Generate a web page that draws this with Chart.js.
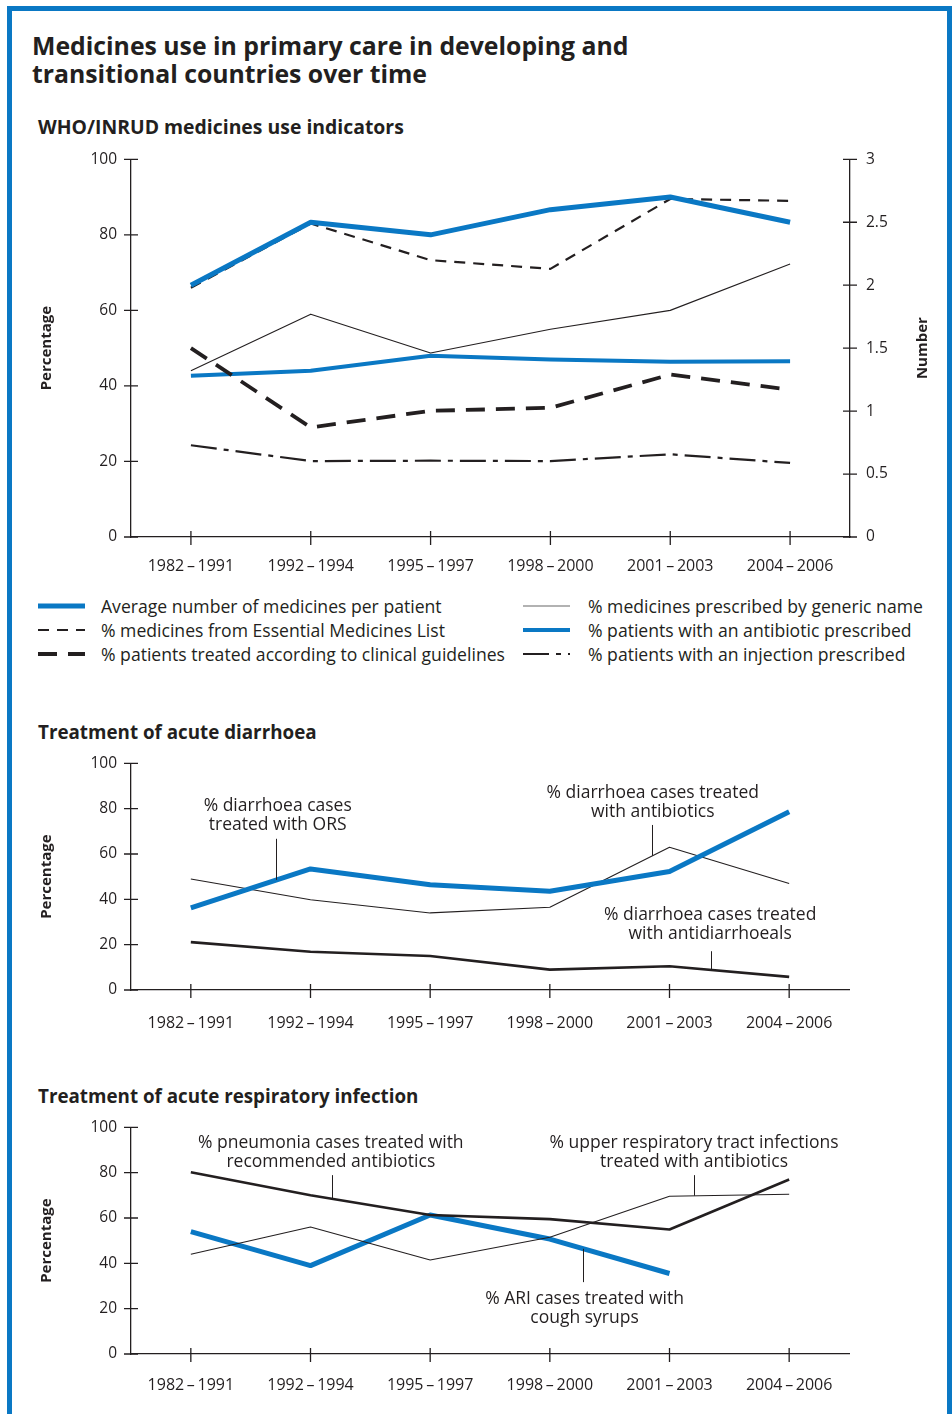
<!DOCTYPE html>
<html>
<head>
<meta charset="utf-8">
<script src="https://cdn.jsdelivr.net/npm/chart.js@4.4.1/dist/chart.umd.min.js"></script>
<style>
  html, body { margin: 0; padding: 0; background: #fff; }
  body { width: 952px; height: 1414px; position: relative; overflow: hidden; font-family: 'Open Sans', sans-serif; color: #231f20; }
  #frame { position: absolute; left: 7px; top: 6px; width: 935px; height: 1500px; border: 5px solid #0a78c4; border-bottom: none; }
  h1 { position: absolute; left: 32px; top: 31px; margin: 0; font-size: 24.8px; line-height: 28px; font-weight: 700; }
  h2 { position: absolute; left: 38px; margin: 0; font-size: 18.8px; line-height: 18px; font-weight: 700; }
  canvas { position: absolute; left: 0; }
  .legend { position: absolute; top: 594px; font-size: 17.6px; line-height: 24px; }
  .legend div { display: flex; align-items: center; height: 24px; white-space: nowrap; }
  .legend svg { flex: none; }
</style>
</head>
<body>
<div id="frame"></div>
<h1>Medicines use in primary care in developing and<br>transitional countries over time</h1>
<h2 style="top:118px; font-size:19.4px">WHO/INRUD medicines use indicators</h2>
<canvas id="c1" width="952" height="446" style="top:134px"></canvas>
<div class="legend" id="leg1" style="left:38px"></div>
<div class="legend" id="leg2" style="left:523px"></div>
<h2 style="top:723px">Treatment of acute diarrhoea</h2>
<canvas id="c2" width="952" height="300" style="top:740px"></canvas>
<h2 style="top:1087px">Treatment of acute respiratory infection</h2>
<canvas id="c3" width="952" height="310" style="top:1104px"></canvas>
<script>
const categories = ['1982\u2009–\u20091991', '1992\u2009–\u20091994', '1995\u2009–\u20091997',
  '1998\u2009–\u20092000', '2001\u2009–\u20092003', '2004\u2009–\u20092006'];

// WHO/INRUD medicines use indicators
const avgMedicines = [2.0, 2.5, 2.4, 2.6, 2.7, 2.5];      // right axis (number)
const emlPct = [66, 83, 73.3, 71, 89.5, 89];
const guidelinesPct = [50, 29, 33.4, 34.2, 43, 39];
const genericPct = [44, 59, 48.7, 55, 60, 72.3];
const antibioticPct = [42.7, 44, 48, 47, 46.4, 46.5];
const injectionPct = [24.3, 20.1, 20.2, 20.1, 21.9, 19.6];

// Treatment of acute diarrhoea
const orsPct = [36.2, 53.4, 46.4, 43.6, 52.3, 78.6];
const diarrAntibioticPct = [49, 39.8, 34, 36.5, 63, 47];
const antidiarrPct = [21.1, 16.9, 15, 9, 10.5, 5.8];

// Treatment of acute respiratory infection
const pneumoniaPct = [80.2, 70, 61.3, 59.5, 54.9, 77];
const urtiPct = [44, 56, 41.5, 51.5, 69.6, 70.5];
const coughPct = [54, 39, 61.3, 50.7, 35.5, null];

const pctTicks = [0, 20, 40, 60, 80, 100];
const numTicks = [0, 0.5, 1, 1.5, 2, 2.5, 3];

// callout labels: x in category index, y in percent
const diarrNotes = [
  { lines: ['% diarrhoea cases', 'treated with ORS'], at: 0.726, y: 81.1, leader: [0.713, 66.7, 48.6] },
  { lines: ['% diarrhoea cases treated', 'with antibiotics'], at: 3.86, y: 86.8, leader: [3.85, 72.8, 59.2] },
  { lines: ['% diarrhoea cases treated', 'with antidiarrhoeals'], at: 4.34, y: 32.9, leader: [4.35, 17.1, 8.8] }
];
const ariNotes = [
  { lines: ['% pneumonia cases treated with', 'recommended antibiotics'], at: 1.17, y: 93.1, leader: [1.177, 78.9, 68.6] },
  { lines: ['% upper respiratory tract infections', 'treated with antibiotics'], at: 4.205, y: 93.1, leader: [4.205, 78.9, 69.8] },
  { lines: ['% ARI cases treated with', 'cough syrups'], at: 3.29, y: 24.1, leader: [3.28, 31.7, 46.4] }
];

const INK = '#231f20';
const BLUE = '#0a78c4';
Chart.defaults.font.family = "'Open Sans', sans-serif";
Chart.defaults.color = INK;

function line(label, data, color, width, dash, axis) {
  return {
    label, data, borderColor: color, backgroundColor: color, borderWidth: width,
    borderDash: dash || [], yAxisID: axis || 'y', pointRadius: 0, tension: 0,
    fill: false, clip: false, borderJoinStyle: 'round'
  };
}

const decor = {
  id: 'decor',
  afterDraw(chart, args, o) {
    const ctx = chart.ctx, x = chart.scales.x, y = chart.scales.y, ca = chart.chartArea;
    ctx.save();
    ctx.strokeStyle = INK;
    ctx.lineWidth = 1.3;
    ctx.beginPath();
    x.ticks.forEach((t, i) => {
      const px = x.getPixelForTick(i);
      ctx.moveTo(px, ca.bottom - 6);
      ctx.lineTo(px, ca.bottom + 8);
    });
    ['y', 'y2'].forEach(id => {
      const s = chart.scales[id];
      if (!s) return;
      const ax = id === 'y' ? ca.left : ca.right;
      s.ticks.forEach(t => {
        const py = s.getPixelForValue(t.value);
        ctx.moveTo(ax - 7, py);
        ctx.lineTo(ax + 7, py);
      });
    });
    ctx.stroke();

    ctx.fillStyle = INK;
    ctx.font = "bold 15px 'Open Sans'";
    ctx.textAlign = 'center';
    ctx.textBaseline = 'middle';
    const midY = (ca.top + ca.bottom) / 2;
    const titles = [{ text: 'Percentage', x: ca.left - 84 }];
    if (chart.scales.y2) titles.push({ text: 'Number', x: ca.right + 73 });
    titles.forEach(t => {
      ctx.save();
      ctx.translate(t.x, midY);
      ctx.rotate(-Math.PI / 2);
      ctx.fillText(t.text, 0, 0);
      ctx.restore();
    });

    ctx.font = "17.5px 'Open Sans'";
    ctx.lineWidth = 1;
    (o.notes || []).forEach(n => {
      const cx = x.getPixelForValue(n.at);
      const top = y.getPixelForValue(n.y);
      n.lines.forEach((s, i) => ctx.fillText(s, cx, top + i * 19));
      const lx = Math.round(x.getPixelForValue(n.leader[0])) + 0.5;
      ctx.beginPath();
      ctx.moveTo(lx, y.getPixelForValue(n.leader[1]));
      ctx.lineTo(lx, y.getPixelForValue(n.leader[2]));
      ctx.stroke();
    });
    ctx.restore();
  }
};

function yAxis(pos, ticks, width, pad) {
  return {
    position: pos, min: ticks[0], max: ticks[ticks.length - 1],
    afterBuildTicks: s => { s.ticks = ticks.map(v => ({ value: v })); },
    afterFit: s => { s.width = width; },
    grid: { display: false, drawTicks: false },
    border: { color: INK, width: 1.3 },
    ticks: { padding: pad, font: { size: 15.5 }, color: INK, callback: v => String(v) }
  };
}

function makeChart(id, datasets, o) {
  const scales = {
    x: {
      offset: true,
      afterFit: s => { s.height = o.xh; },
      grid: { display: false, drawTicks: false },
      border: { color: INK, width: 1.3 },
      ticks: { padding: o.xpad, font: { size: 16 }, color: INK, maxRotation: 0, autoSkip: false }
    },
    y: yAxis('left', pctTicks, 131, 14)
  };
  if (o.right) scales.y2 = yAxis('right', numTicks, 102, 16);
  return new Chart(document.getElementById(id), {
    type: 'line',
    data: { labels: categories, datasets },
    options: {
      responsive: false,
      animation: false,
      layout: { padding: { top: o.top, right: o.right ? 0 : 103, left: 0, bottom: 0 } },
      plugins: { legend: { display: false }, tooltip: { enabled: false }, decor: { notes: o.notes } },
      scales
    },
    plugins: [decor]
  });
}

const set1 = [
  line('Average number of medicines per patient', avgMedicines, BLUE, 5, [], 'y2'),
  line('% medicines from Essential Medicines List', emlPct, INK, 2.2, [11, 8]),
  line('% patients treated according to clinical guidelines', guidelinesPct, INK, 3.8, [19, 11]),
  line('% medicines prescribed by generic name', genericPct, INK, 1.1),
  line('% patients with an antibiotic prescribed', antibioticPct, BLUE, 4),
  line('% patients with an injection prescribed', injectionPct, INK, 2.2, [26, 7, 5, 7])
];
makeChart('c1', set1, { top: 24, xh: 43, xpad: 20, right: true });

makeChart('c2', [
  line('% diarrhoea cases treated with ORS', orsPct, BLUE, 5),
  line('% diarrhoea cases treated with antibiotics', diarrAntibioticPct, INK, 1.1),
  line('% diarrhoea cases treated with antidiarrhoeals', antidiarrPct, INK, 2.6)
], { top: 22, xh: 50, xpad: 24, notes: diarrNotes });

makeChart('c3', [
  line('% pneumonia cases treated with recommended antibiotics', pneumoniaPct, INK, 2.6),
  line('% upper respiratory tract infections treated with antibiotics', urtiPct, INK, 1.1),
  line('% ARI cases treated with cough syrups', coughPct, BLUE, 5)
], { top: 22, xh: 60, xpad: 22, notes: ariNotes });

// legend built from the first chart's datasets, two columns of three
function sample(ds, gap) {
  const col = ds.borderWidth < 1.5 ? '#666' : ds.borderColor;
  return '<svg width="47" height="10" style="margin-right:' + gap + 'px">' +
    '<line x1="0" y1="5" x2="47" y2="5" stroke="' + col + '" stroke-width="' + ds.borderWidth +
    '" stroke-dasharray="' + (ds.borderDash.length ? ds.borderDash.join(' ') : 'none') + '"/></svg>';
}
[[0, 1, 2], [3, 4, 5]].forEach((idx, c) => {
  document.getElementById('leg' + (c + 1)).innerHTML =
    idx.map(i => '<div>' + sample(set1[i], c ? 18 : 16) + '<span>' + set1[i].label + '</span></div>').join('');
});
</script>
</body>
</html>
